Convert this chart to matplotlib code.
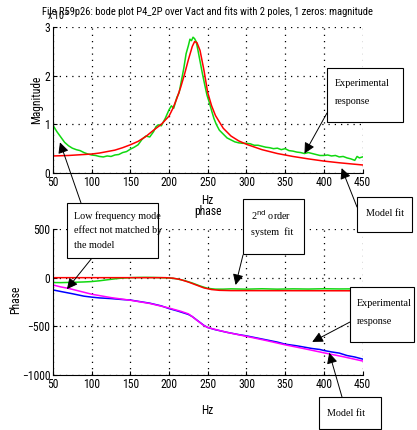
import matplotlib
matplotlib.use("Agg")
import matplotlib.pyplot as plt
from matplotlib.patches import Rectangle

plt.rcParams['font.family'] = ['Roboto Condensed', 'Liberation Sans', 'DejaVu Sans']

# Magnitude: measured response and 2-pole/1-zero fit
f_mag_exp = [50, 55, 60, 65, 70, 75, 80, 85, 90, 95, 100, 105, 110, 115, 120, 125, 130, 135, 140, 145,
             150, 155, 160, 165, 170, 175, 180, 183, 186, 190, 195, 200, 203, 206, 210, 213, 216, 219,
             222, 225, 227, 229, 231, 233, 235, 237, 240, 243, 246, 249, 252, 255, 258, 261, 265, 270,
             275, 280, 285, 290, 295, 300, 305, 310, 315, 320, 325, 330, 335, 340, 345, 350, 355, 360,
             365, 370, 375, 380, 385, 390, 395, 400, 405, 410, 415, 420, 425, 430, 435, 440, 443, 446, 450]
mag_exp = [0.98, 0.85, 0.74, 0.63, 0.56, 0.51, 0.48, 0.46, 0.42, 0.39, 0.37, 0.36, 0.34, 0.33, 0.35,
           0.34, 0.37, 0.38, 0.42, 0.44, 0.49, 0.53, 0.58, 0.69, 0.76, 0.74, 0.85, 0.95, 0.99, 0.97,
           1.12, 1.30, 1.38, 1.33, 1.55, 1.65, 1.90, 2.15, 2.45, 2.62, 2.75, 2.72, 2.79, 2.76, 2.70,
           2.55, 2.30, 2.05, 1.82, 1.60, 1.45, 1.28, 1.12, 1.00, 0.88, 0.80, 0.72, 0.68, 0.64, 0.62,
           0.61, 0.61, 0.60, 0.57, 0.57, 0.55, 0.53, 0.52, 0.50, 0.51, 0.48, 0.50, 0.46, 0.45, 0.43,
           0.42, 0.40, 0.42, 0.40, 0.38, 0.36, 0.36, 0.37, 0.35, 0.36, 0.33, 0.34, 0.31, 0.29, 0.26,
           0.34, 0.31, 0.33]

f_mag_fit = [50, 60, 70, 80, 90, 100, 110, 120, 130, 140, 150, 160, 170, 180, 190, 200, 205, 210, 215,
             220, 225, 230, 233, 236, 240, 245, 250, 255, 260, 270, 280, 290, 300, 320, 340, 360, 380,
             400, 420, 440, 450]
mag_fit = [0.35, 0.355, 0.36, 0.37, 0.38, 0.39, 0.41, 0.44, 0.47, 0.52, 0.58, 0.65, 0.75, 0.88, 1.00,
           1.17, 1.33, 1.53, 1.76, 2.03, 2.33, 2.60, 2.70, 2.68, 2.52, 2.12, 1.65, 1.38, 1.18, 0.92,
           0.76, 0.66, 0.59, 0.48, 0.40, 0.34, 0.29, 0.245, 0.21, 0.18, 0.165]

# Phase of the 2nd order system fit (red) and the measured phase (green)
f_ph2 = [50, 100, 150, 195, 205, 215, 225, 235, 245, 255, 265, 280, 450]
ph2_fit = [0, 0, 0, 0, -5, -20, -45, -75, -105, -122, -130, -133, -135]

f_ph2_exp = [50, 60, 75, 90, 100, 110, 120, 130, 140, 150, 160, 170, 180, 190, 200, 210, 220, 230,
             240, 250, 260, 270, 280, 300, 320, 340, 360, 380, 400, 420, 440, 450]
ph2_exp = [-50, -51, -48, -44, -40, -32, -22, -12, -4, 0, 2, 3, 2, 0, -3, -12, -30, -55, -85, -110,
           -118, -118, -115, -118, -114, -118, -115, -117, -114, -116, -115, -115]

# Phase of the full response (blue: measured, magenta: model)
f_ph_exp = [50, 60, 75, 90, 100, 110, 125, 140, 150, 160, 175, 190, 200, 210, 220, 225, 230, 235, 240,
            245, 250, 260, 275, 290, 300, 315, 325, 340, 350, 365, 375, 385, 395, 400, 410, 420, 430,
            440, 450]
ph_exp = [-126, -142, -165, -190, -200, -208, -215, -225, -230, -243, -262, -290, -318, -340, -365,
          -378, -400, -430, -460, -490, -512, -535, -562, -585, -598, -622, -638, -662, -683, -700,
          -714, -728, -738, -748, -763, -775, -800, -815, -836]

f_ph_fit = [50, 60, 70, 80, 90, 100, 125, 150, 175, 200, 215, 225, 230, 235, 240, 245, 250, 260, 275,
            300, 325, 350, 375, 400, 425, 450]
ph_fit = [-75, -95, -110, -130, -150, -170, -205, -232, -265, -312, -345, -372, -400, -432, -462,
          -492, -512, -533, -562, -603, -645, -690, -730, -772, -812, -856]

x_ticks = [50, 100, 150, 200, 250, 300, 350, 400, 450]
mag_ticks = [0, 1, 2, 3]
ph_ticks = [-1000, -500, 0, 500]

W, H = 417, 430
fig = plt.figure(figsize=(W / 100, H / 100), dpi=100)
fig.patch.set_facecolor('white')

GREEN = '#10d810'
FS = 8.4


def px_rect(x0, y0, x1, y1):
    return [x0 / W, 1 - y1 / H, (x1 - x0) / W, (y1 - y0) / H]


def style(ax):
    ax.spines['top'].set_visible(False)
    ax.spines['right'].set_visible(False)
    ax.grid(True, linestyle=(0, (1, 4)), color='black', linewidth=0.9)
    ax.tick_params(direction='in', length=3, labelsize=FS, pad=2)
    ax.set_xlim(50, 450)
    ax.set_xticks(x_ticks)


ax1 = fig.add_axes(px_rect(53, 27, 362.5, 173))
style(ax1)
ax1.plot(f_mag_exp, mag_exp, color=GREEN, lw=1.1)
ax1.plot(f_mag_fit, mag_fit, color='red', lw=1.1)
ax1.set_ylim(0, 3)
ax1.set_yticks(mag_ticks)
ax1.set_ylabel('Magnitude', fontsize=FS)
ax1.yaxis.set_label_coords((43 - 53) / 309.5, 0.5)
ax1.set_xlabel('Hz', fontsize=FS)
ax1.xaxis.set_label_coords(0.5, (173 - 194) / 146)

ax2 = fig.add_axes(px_rect(53, 229, 362.5, 375))
style(ax2)
ax2.plot(f_ph2_exp, ph2_exp, color=GREEN, lw=1.1)
ax2.plot(f_ph2, ph2_fit, color='red', lw=1.1)
ax2.plot(f_ph_exp, ph_exp, color='blue', lw=1.1)
ax2.plot(f_ph_fit, ph_fit, color='magenta', lw=1.1)
ax2.set_ylim(-1000, 500)
ax2.set_yticks(ph_ticks)
ax2.set_ylabel('Phase', fontsize=FS)
ax2.yaxis.set_label_coords((22 - 53) / 309.5, (375 - 300) / 146)
ax2.set_xlabel('Hz', fontsize=FS)
ax2.xaxis.set_label_coords(0.5, (375 - 404) / 146)
ax2.text(0.5, 1 + (229 - 212) / 146, 'phase', transform=ax2.transAxes,
         ha='center', va='center', fontsize=FS)

fig.text(207 / W, 1 - 12 / H,
         'File R59p26: bode plot P4_2P over Vact and fits with 2 poles, 1 zeros: magnitude',
         ha='center', va='center', fontsize=7.6)
fig.text(47 / W, 1 - 15 / H, r'x 10$^3$', ha='left', va='center', fontsize=7.2)


def box(x0, y0, x1, y1, lines, tx, ty, dy):
    fig.add_artist(Rectangle((x0 / W, 1 - y1 / H), (x1 - x0) / W, (y1 - y0) / H,
                             transform=fig.transFigure, facecolor='white',
                             edgecolor='black', lw=0.8, zorder=5))
    for i, s in enumerate(lines):
        fig.text(tx / W, 1 - (ty + i * dy) / H, s, ha='left', va='center',
                 fontsize=7.3, family='Liberation Serif', zorder=6)


def arrow(ax, tip, start):
    ax.annotate('', xy=tip, xycoords='data',
                xytext=(start[0], H - start[1]), textcoords='figure pixels',
                annotation_clip=False,
                arrowprops=dict(arrowstyle='-|>,head_length=0.8,head_width=0.4',
                                color='black', lw=0.7,
                                mutation_scale=8, shrinkA=0, shrinkB=0))


arrow(ax1, (375, 0.40), (327, 113))
arrow(ax1, (423, 0.10), (357, 207))
arrow(ax1, (59, 0.63), (81, 203))
arrow(ax2, (68, -118), (92, 258))
arrow(ax2, (286, -75), (243, 255))
arrow(ax2, (385, -660), (350, 322))
arrow(ax2, (407, -772), (342, 397))

box(327, 68, 403, 122, ['Experimental', 'response'], 335, 84, 18)
box(357, 197, 412, 232, ['Model fit'], 366, 214, 0)
box(67, 203, 158, 258, ['Low frequency mode', 'effect not matched by', 'the model'], 74, 216, 14.5)
box(243, 199, 304, 254, ['2$^{\\rm nd}$ order', 'system  fit'], 251, 215, 17)
box(350, 287, 414, 342, ['Experimental', 'response'], 357, 303, 18)
box(319, 397, 381, 429, ['Model fit'], 327, 413, 0)

fig.savefig('out.png', dpi=100)
